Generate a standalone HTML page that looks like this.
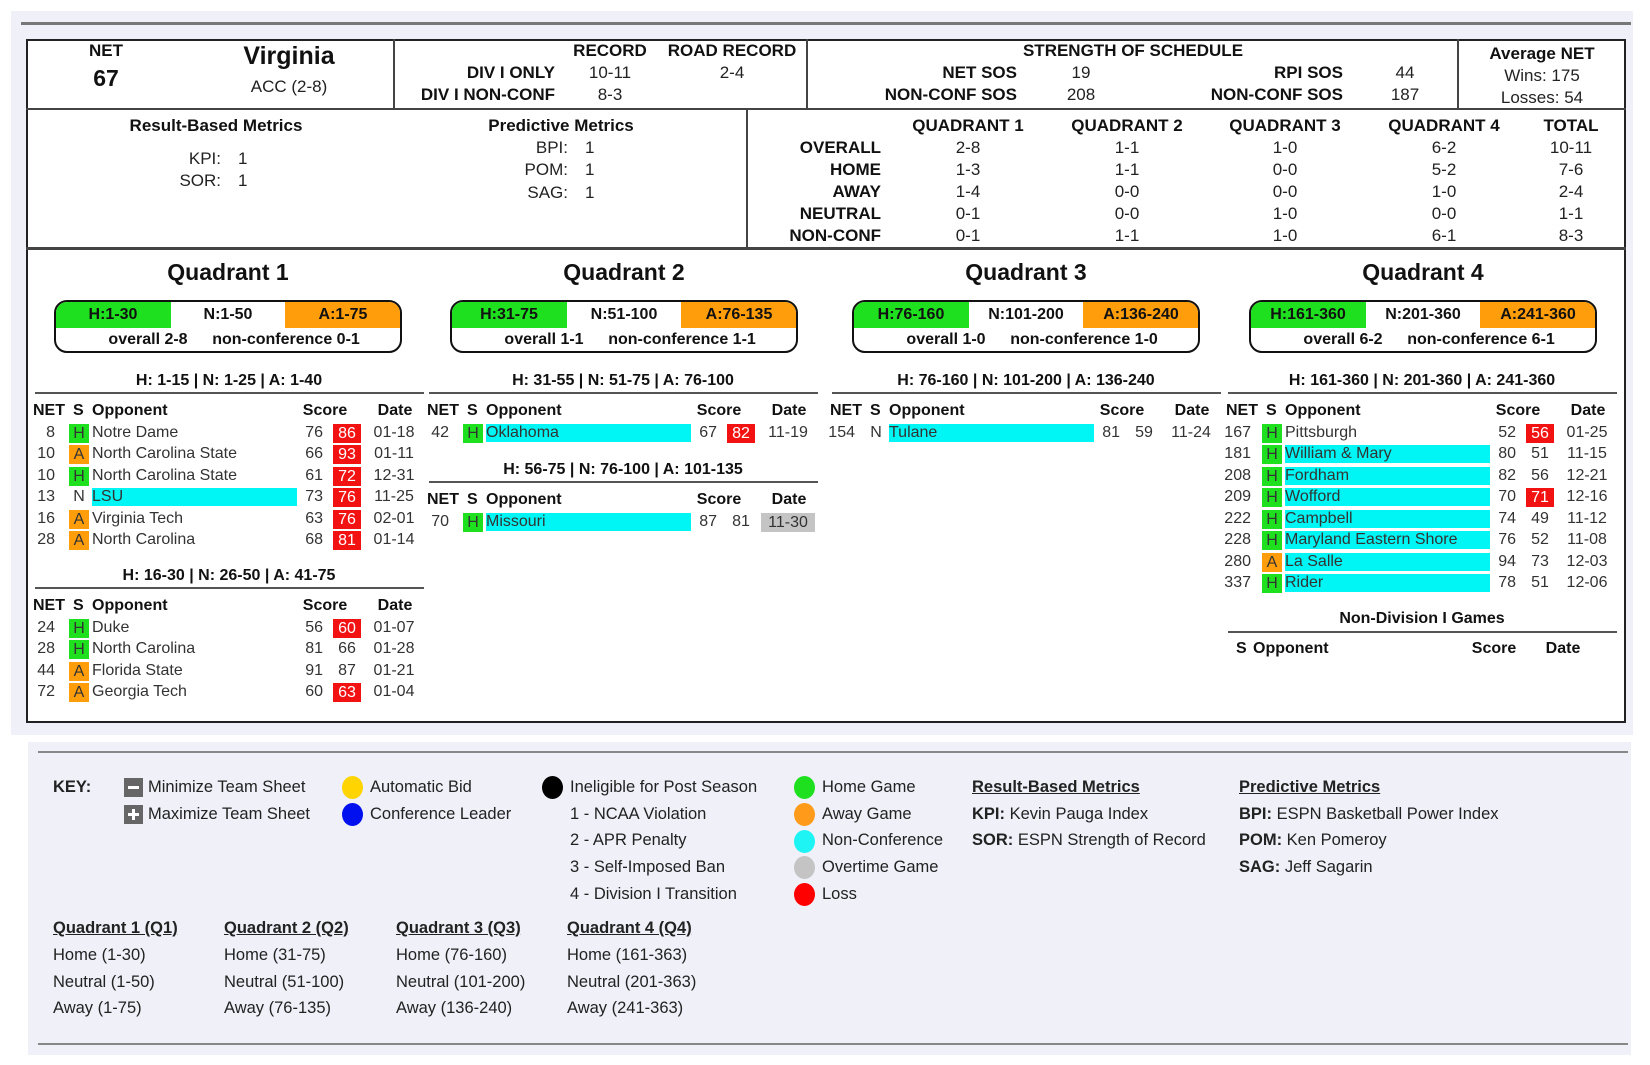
<!DOCTYPE html>
<html><head><meta charset="utf-8">
<style>
html,body{margin:0;padding:0;background:#fff;}
#root{position:relative;width:1650px;height:1065px;overflow:hidden;font-family:"Liberation Sans",Arial,sans-serif;color:#111;}
.abs{position:absolute;white-space:nowrap;line-height:20px;}
.c{transform:translateX(-50%);}
.r{transform:translateX(-100%);}
.n{font-family:"Liberation Sans",Arial,sans-serif;}
.hb{font-weight:bold;font-size:17px;}
.hr{font-size:17px;color:#222;}
.qt{font-weight:bold;font-size:23px;}
.sub{font-weight:bold;font-size:16px;}
.th{font-weight:bold;font-size:16px;}
.td{font-size:16px;color:#333;}
.line{position:absolute;height:2px;background:#444;}
.box{position:absolute;background:#fff;border:2px solid #222;box-sizing:border-box;}
.pill{position:absolute;width:348px;height:53px;border:2px solid #111;border-radius:13px;overflow:hidden;box-sizing:border-box;background:#fff;}
.pill .g{position:absolute;left:0;top:0;width:115px;height:26px;background:#1fe01f;}
.pill .o{position:absolute;right:0;top:0;width:115px;height:26px;background:#ff9d0a;}
.pill span{position:absolute;font-weight:bold;font-size:16px;line-height:24px;top:1px;white-space:nowrap;}
.pill .b{top:26px;}
.dot{position:absolute;width:21px;height:23px;border-radius:50%;}
.ico{position:absolute;width:19px;height:19px;background:#666;}
.k{font-size:16.5px;color:#222;}
.u{text-decoration:underline;font-weight:bold;}
</style></head>
<body>
<div id="root">
  <div style="position:absolute;left:11px;top:11px;width:1622px;height:724px;background:#eff0f8;"></div>
  <div style="position:absolute;left:21px;top:22px;width:1610px;height:3px;background:#777;"></div>
  <div class="box" style="left:26px;top:39px;width:1600px;height:684px;"></div>
  <div class="line" style="left:26px;top:108px;width:1600px;"></div>
  <div class="line" style="left:26px;top:247px;width:1600px;height:3px;"></div>
  <div class="line" style="left:393px;top:39px;width:2px;height:70px;"></div>
  <div class="line" style="left:806px;top:39px;width:2px;height:70px;"></div>
  <div class="line" style="left:1457px;top:39px;width:2px;height:70px;"></div>
  <div class="line" style="left:746px;top:109px;width:2px;height:139px;"></div>

  <div class="abs n c hb" style="left:106px;top:41px;">NET</div>
  <div class="abs n c" style="left:106px;top:66px;font-weight:bold;font-size:23px;line-height:24px;">67</div>
  <div class="abs n c" style="left:289px;top:43px;font-weight:bold;font-size:25px;line-height:26px;">Virginia</div>
  <div class="abs n c hr" style="left:289px;top:77px;">ACC (2-8)</div>

  <div class="abs n c hb" style="left:610px;top:41px;">RECORD</div>
  <div class="abs n c hb" style="left:732px;top:41px;">ROAD RECORD</div>
  <div class="abs n r hb" style="left:555px;top:63px;">DIV I ONLY</div>
  <div class="abs n r hb" style="left:555px;top:85px;">DIV I NON-CONF</div>
  <div class="abs n c hr" style="left:610px;top:63px;">10-11</div>
  <div class="abs n c hr" style="left:732px;top:63px;">2-4</div>
  <div class="abs n c hr" style="left:610px;top:85px;">8-3</div>

  <div class="abs n c hb" style="left:1133px;top:41px;">STRENGTH OF SCHEDULE</div>
  <div class="abs n r hb" style="left:1017px;top:63px;">NET SOS</div>
  <div class="abs n r hb" style="left:1017px;top:85px;">NON-CONF SOS</div>
  <div class="abs n c hr" style="left:1081px;top:63px;">19</div>
  <div class="abs n c hr" style="left:1081px;top:85px;">208</div>
  <div class="abs n r hb" style="left:1343px;top:63px;">RPI SOS</div>
  <div class="abs n r hb" style="left:1343px;top:85px;">NON-CONF SOS</div>
  <div class="abs n c hr" style="left:1405px;top:63px;">44</div>
  <div class="abs n c hr" style="left:1405px;top:85px;">187</div>

  <div class="abs n c hb" style="left:1542px;top:44px;">Average NET</div>
  <div class="abs n c hr" style="left:1542px;top:66px;">Wins: 175</div>
  <div class="abs n c hr" style="left:1542px;top:88px;">Losses: 54</div>

  <div class="abs n c hb" style="left:216px;top:116px;">Result-Based Metrics</div>
  <div class="abs n r hr" style="left:221px;top:149px;">KPI:</div>
  <div class="abs n hr" style="left:238px;top:149px;">1</div>
  <div class="abs n r hr" style="left:221px;top:171px;">SOR:</div>
  <div class="abs n hr" style="left:238px;top:171px;">1</div>
  <div class="abs n c hb" style="left:561px;top:116px;">Predictive Metrics</div>
  <div class="abs n r hr" style="left:568px;top:138px;">BPI:</div>
  <div class="abs n hr" style="left:585px;top:138px;">1</div>
  <div class="abs n r hr" style="left:568px;top:160px;">POM:</div>
  <div class="abs n hr" style="left:585px;top:160px;">1</div>
  <div class="abs n r hr" style="left:568px;top:183px;">SAG:</div>
  <div class="abs n hr" style="left:585px;top:183px;">1</div>

  <div id="qsum"></div>
  <div id="sections"></div>

  <div style="position:absolute;left:28px;top:742px;width:1603px;height:313px;background:#eff0f8;"></div>
  <div style="position:absolute;left:38px;top:751px;width:1590px;height:2px;background:#888;"></div>
  <div style="position:absolute;left:38px;top:1043px;width:1590px;height:2px;background:#888;"></div>

  <div class="abs n k" style="left:53px;top:777px;font-weight:bold;">KEY:</div>
  <div class="ico" style="left:124px;top:778px;"><div style="position:absolute;left:4px;top:8px;width:11px;height:3px;background:#fff;"></div></div>
  <div class="abs n k" style="left:148px;top:777px;">Minimize Team Sheet</div>
  <div class="ico" style="left:124px;top:805px;"><div style="position:absolute;left:4px;top:8px;width:11px;height:3px;background:#fff;"></div><div style="position:absolute;left:8px;top:4px;width:3px;height:11px;background:#fff;"></div></div>
  <div class="abs n k" style="left:148px;top:804px;">Maximize Team Sheet</div>
  <div class="dot" style="left:342px;top:776px;background:#ffd400;"></div>
  <div class="abs n k" style="left:370px;top:777px;">Automatic Bid</div>
  <div class="dot" style="left:342px;top:803px;background:#0010ee;"></div>
  <div class="abs n k" style="left:370px;top:804px;">Conference Leader</div>
  <div class="dot" style="left:542px;top:776px;background:#000;"></div>
  <div class="abs n k" style="left:570px;top:777px;">Ineligible for Post Season</div>
  <div class="abs n k" style="left:570px;top:804px;">1 - NCAA Violation</div>
  <div class="abs n k" style="left:570px;top:830px;">2 - APR Penalty</div>
  <div class="abs n k" style="left:570px;top:857px;">3 - Self-Imposed Ban</div>
  <div class="abs n k" style="left:570px;top:884px;">4 - Division I Transition</div>
  <div class="dot" style="left:794px;top:776px;background:#1fe01f;"></div>
  <div class="abs n k" style="left:822px;top:777px;">Home Game</div>
  <div class="dot" style="left:794px;top:803px;background:#ff9a1a;"></div>
  <div class="abs n k" style="left:822px;top:804px;">Away Game</div>
  <div class="dot" style="left:794px;top:830px;background:#1ff4f4;"></div>
  <div class="abs n k" style="left:822px;top:830px;">Non-Conference</div>
  <div class="dot" style="left:794px;top:856px;background:#c4c4c4;"></div>
  <div class="abs n k" style="left:822px;top:857px;">Overtime Game</div>
  <div class="dot" style="left:794px;top:883px;background:#f00;"></div>
  <div class="abs n k" style="left:822px;top:884px;">Loss</div>

  <div class="abs n k u" style="left:972px;top:777px;">Result-Based Metrics</div>
  <div class="abs n k" style="left:972px;top:804px;"><b>KPI:</b> Kevin Pauga Index</div>
  <div class="abs n k" style="left:972px;top:830px;"><b>SOR:</b> ESPN Strength of Record</div>
  <div class="abs n k u" style="left:1239px;top:777px;">Predictive Metrics</div>
  <div class="abs n k" style="left:1239px;top:804px;"><b>BPI:</b> ESPN Basketball Power Index</div>
  <div class="abs n k" style="left:1239px;top:830px;"><b>POM:</b> Ken Pomeroy</div>
  <div class="abs n k" style="left:1239px;top:857px;"><b>SAG:</b> Jeff Sagarin</div>

  <div id="qkey"></div>
</div>

<script>
const sumCols = ['QUADRANT 1','QUADRANT 2','QUADRANT 3','QUADRANT 4','TOTAL'];
const sumRows = ['OVERALL','HOME','AWAY','NEUTRAL','NON-CONF'];
const sumOverall = ['2-8','1-1','1-0','6-2','10-11'];
const sumHome = ['1-3','1-1','0-0','5-2','7-6'];
const sumAway = ['1-4','0-0','0-0','1-0','2-4'];
const sumNeutral = ['0-1','0-0','1-0','0-0','1-1'];
const sumNonConf = ['0-1','1-1','1-0','6-1','8-3'];

const quadNames = ['Quadrant 1','Quadrant 2','Quadrant 3','Quadrant 4'];
const quadHome = ['H:1-30','H:31-75','H:76-160','H:161-360'];
const quadNeutral = ['N:1-50','N:51-100','N:101-200','N:201-360'];
const quadAway = ['A:1-75','A:76-135','A:136-240','A:241-360'];
const quadOverall = ['overall 2-8','overall 1-1','overall 1-0','overall 6-2'];
const quadNonConf = ['non-conference 0-1','non-conference 1-1','non-conference 1-0','non-conference 6-1'];

// Games: [net, site, opponent, nonConference, teamScore, oppScore, date, overtime]
const q1aTitle = 'H: 1-15 | N: 1-25 | A: 1-40';
const q1aGames = [[8,'H','Notre Dame',0,76,86,'01-18',0],[10,'A','North Carolina State',0,66,93,'01-11',0],[10,'H','North Carolina State',0,61,72,'12-31',0],[13,'N','LSU',1,73,76,'11-25',0],[16,'A','Virginia Tech',0,63,76,'02-01',0],[28,'A','North Carolina',0,68,81,'01-14',0]];
const q1bTitle = 'H: 16-30 | N: 26-50 | A: 41-75';
const q1bGames = [[24,'H','Duke',0,56,60,'01-07',0],[28,'H','North Carolina',0,81,66,'01-28',0],[44,'A','Florida State',0,91,87,'01-21',0],[72,'A','Georgia Tech',0,60,63,'01-04',0]];
const q2aTitle = 'H: 31-55 | N: 51-75 | A: 76-100';
const q2aGames = [[42,'H','Oklahoma',1,67,82,'11-19',0]];
const q2bTitle = 'H: 56-75 | N: 76-100 | A: 101-135';
const q2bGames = [[70,'H','Missouri',1,87,81,'11-30',1]];
const q3aTitle = 'H: 76-160 | N: 101-200 | A: 136-240';
const q3aGames = [[154,'N','Tulane',1,81,59,'11-24',0]];
const q4aTitle = 'H: 161-360 | N: 201-360 | A: 241-360';
const q4aGames = [[167,'H','Pittsburgh',0,52,56,'01-25',0],[181,'H','William & Mary',1,80,51,'11-15',0],[208,'H','Fordham',1,82,56,'12-21',0],[209,'H','Wofford',1,70,71,'12-16',0],[222,'H','Campbell',1,74,49,'11-12',0],[228,'H','Maryland Eastern Shore',1,76,52,'11-08',0],[280,'A','La Salle',1,94,73,'12-03',0],[337,'H','Rider',1,78,51,'12-06',0]];

const keyTitles = ['Quadrant 1 (Q1)','Quadrant 2 (Q2)','Quadrant 3 (Q3)','Quadrant 4 (Q4)'];
const keyHome = ['Home (1-30)','Home (31-75)','Home (76-160)','Home (161-363)'];
const keyNeutral = ['Neutral (1-50)','Neutral (51-100)','Neutral (101-200)','Neutral (201-363)'];
const keyAway = ['Away (1-75)','Away (76-135)','Away (136-240)','Away (241-363)'];

const root = document.getElementById('root');
function mk(cls, x, y, text, style) {
  const d = document.createElement('div');
  d.className = 'abs ' + cls;
  d.style.left = x + 'px';
  d.style.top = y + 'px';
  if (style) d.style.cssText += style;
  d.textContent = text;
  root.appendChild(d);
  return d;
}

const colX = [968, 1127, 1285, 1444, 1571];
const rowY = [138, 160, 182, 204, 226];
const sumData = [sumOverall, sumHome, sumAway, sumNeutral, sumNonConf];
sumCols.forEach((c, i) => {
  const e = mk('n c hb', colX[i], 116, c);
  
  
});
sumRows.forEach((r, j) => {
  const e = mk('n r hb', 881, rowY[j], r);
  
  
  sumData[j].forEach((v, i) => {
    const c = mk('n c hr', colX[i], rowY[j], v);
    
    
  });
});

const qCenter = [228, 624, 1026, 1423];
const qLeft = [35, 429, 832, 1228];
qCenter.forEach((cx, i) => {
  const t = mk('c qt', cx, 262, quadNames[i]);
  
  
  const p = document.createElement('div');
  p.className = 'pill';
  p.style.left = (cx - 174) + 'px';
  p.style.top = '300px';
  
  
  p.innerHTML = '<div class="g"></div><div class="o"></div>' +
    '<span style="left:57px;transform:translateX(-50%)">' + quadHome[i] + '</span>' +
    '<span style="left:172px;transform:translateX(-50%)">' + quadNeutral[i] + '</span>' +
    '<span style="left:287px;transform:translateX(-50%)">' + quadAway[i] + '</span>' +
    '<span class="b" style="left:92px;transform:translateX(-50%)">' + quadOverall[i] + '</span>' +
    '<span class="b" style="left:230px;transform:translateX(-50%)">' + quadNonConf[i] + '</span>';
  root.appendChild(p);
});

const ROW = 21.5;
function table(left, subY, title, games) {
  const s = mk('c sub', left + 194, subY - 10, title);
  
  
  const ln = document.createElement('div');
  ln.className = 'line';
  ln.style.cssText = 'left:' + left + 'px;top:' + (subY + 11) + 'px;width:389px;height:2px;background:#555;';
  
  
  root.appendChild(ln);
  const hy = subY + 30 - 10;
  const h1 = mk('th', left - 2, hy, 'NET');
  
  
  const h2 = mk('th', left + 38, hy, 'S');
  
  
  const h3 = mk('th', left + 57, hy, 'Opponent');
  
  
  const h4 = mk('th c', left + 290, hy, 'Score');
  
  
  const h5 = mk('th c', left + 360, hy, 'Date');
  
  
  games.forEach((g, k) => {
    const cy = subY + 51.5 + k * ROW;
    const top = cy - 10;
    const net = mk('td r', left + 20 + (g[0] >= 100 ? 3 : 0), top, String(g[0]));
    
    
    const site = mk('td c', left + 44, top, g[1]);
    if (g[1] === 'H' || g[1] === 'A') {
      site.style.background = g[1] === 'H' ? '#1fe01f' : '#ff9d0a';
      site.style.width = '20px';
      site.style.textAlign = 'center';
      site.style.height = '19px';
      site.style.lineHeight = '19px';
      site.style.top = (cy - 9) + 'px';
    }
    
    
    if (g[3]) {
      const bar = document.createElement('div');
      bar.style.cssText = 'position:absolute;left:' + (left + 57) + 'px;top:' + (cy - 9) + 'px;width:205px;height:18px;background:#00f5f5;';
      
      
      root.appendChild(bar);
    }
    const opp = mk('td', left + 57, top, g[2]);
    
    
    const s1 = mk('td r', left + 288, top, String(g[4]));
    
    
    const s2 = mk('td c', left + 312, top, String(g[5]));
    if (g[5] > g[4]) {
      s2.style.background = '#f31212';
      s2.style.color = '#fff';
      s2.style.width = '28px';
      s2.style.textAlign = 'center';
      s2.style.height = '19px';
      s2.style.top = (cy - 9) + 'px';
      s2.style.lineHeight = '19px';
    }
    
    
    const dt = mk('td c', left + 359, top, g[6]);
    if (g[7]) {
      dt.style.background = '#c4c4c4';
      dt.style.width = '54px';
      dt.style.textAlign = 'center';
      dt.style.height = '19px';
      dt.style.top = (cy - 9) + 'px';
      dt.style.lineHeight = '19px';
    }
    
    
  });
}
table(qLeft[0], 381, q1aTitle, q1aGames);
table(qLeft[0], 576, q1bTitle, q1bGames);
table(qLeft[1], 381, q2aTitle, q2aGames);
table(qLeft[1], 470, q2bTitle, q2bGames);
table(qLeft[2], 381, q3aTitle, q3aGames);
table(qLeft[3], 381, q4aTitle, q4aGames);

const nd = mk('c sub', qLeft[3] + 194, 609, 'Non-Division I Games');


const ndl = document.createElement('div');
ndl.className = 'line';
ndl.style.cssText = 'left:' + qLeft[3] + 'px;top:631px;width:389px;height:2px;background:#555;';


root.appendChild(ndl);
const nh1 = mk('th', 1236, 639, 'S');


const nh2 = mk('th', 1253, 639, 'Opponent');


const nh3 = mk('th c', 1494, 639, 'Score');


const nh4 = mk('th c', 1563, 639, 'Date');



const kx = [53, 224, 396, 567];
kx.forEach((x, i) => {
  const a = mk('n k u', x, 918, keyTitles[i]);
  
  
  const b = mk('n k', x, 945, keyHome[i]);
  
  
  const c = mk('n k', x, 972, keyNeutral[i]);
  
  
  const d = mk('n k', x, 998, keyAway[i]);
  
  
});
</script>
</body></html>
